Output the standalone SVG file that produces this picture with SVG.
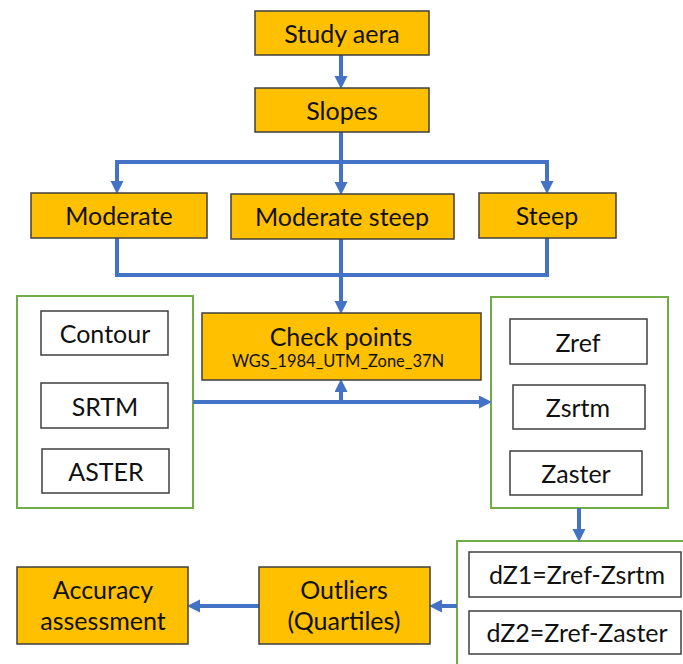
<svg xmlns="http://www.w3.org/2000/svg" width="683" height="664" viewBox="0 0 683 664">
<defs>
<marker id="ah" markerUnits="userSpaceOnUse" markerWidth="14" markerHeight="14" refX="4" refY="6.5" orient="auto">
<path d="M0,0 L13,6.5 L0,13 z" fill="#4472C4"/>
</marker>
<style>
.o{fill:#FFC000;stroke:#3F3F3F;stroke-width:1.5}
.w{fill:#FFFFFF;stroke:#3F3F3F;stroke-width:1.5}
.g{fill:#FFFFFF;stroke:#70AD47;stroke-width:2}
.c{fill:none;stroke:#4472C4;stroke-width:4}
.ca{fill:none;stroke:#4472C4;stroke-width:4;marker-end:url(#ah)}
text{font-family:Lato,"Liberation Sans",sans-serif;font-size:25px;fill:#111111;text-anchor:middle;dominant-baseline:central}
.s{font-size:16.5px}
</style>
</defs>
<rect width="683" height="664" fill="#FFFFFF"/>
<g id="grp-left"><rect class="g" x="17" y="296" width="176" height="212"/></g>
<g id="grp-right"><rect class="g" x="491" y="297" width="177" height="211"/></g>
<g id="grp-dz"><rect class="g" x="457" y="541" width="240" height="140"/></g>
<g id="connectors">
<line class="ca" x1="341" y1="55" x2="341" y2="80"/>
<polyline class="c" points="341,132 341,162"/>
<polyline class="c" points="117,162 547,162"/>
<line class="ca" x1="117" y1="160" x2="117" y2="185"/>
<line class="ca" x1="341" y1="160" x2="341" y2="186"/>
<line class="ca" x1="547" y1="160" x2="547" y2="185"/>
<polyline class="c" points="117,238 117,275 547,275 547,238"/>
<line class="c" x1="341" y1="239" x2="341" y2="275"/>
<line class="ca" x1="341" y1="273" x2="341" y2="305"/>
<line class="ca" x1="193" y1="402" x2="483" y2="402"/>
<line class="ca" x1="341" y1="404" x2="341" y2="388"/>
<line class="ca" x1="579" y1="508" x2="579" y2="533"/>
<line class="ca" x1="457" y1="606" x2="438" y2="606"/>
<line class="ca" x1="259" y1="606" x2="196" y2="606"/>
</g>
<g id="study"><rect class="o" x="255" y="11" width="174" height="44"/><text x="342" y="33">Study aera</text></g>
<g id="slopes"><rect class="o" x="255" y="88" width="174" height="44"/><text x="342" y="110">Slopes</text></g>
<g id="moderate"><rect class="o" x="31" y="193" width="176" height="45"/><text x="119" y="215">Moderate</text></g>
<g id="modsteep"><rect class="o" x="231" y="194" width="223" height="45"/><text x="342" y="216">Moderate steep</text></g>
<g id="steep"><rect class="o" x="479" y="193" width="137" height="45"/><text x="547" y="215">Steep</text></g>
<g id="check"><rect class="o" x="202" y="313" width="279" height="67"/><text x="341" y="336">Check points</text><text class="s" x="338" y="361">WGS_1984_UTM_Zone_37N</text></g>
<g id="contour"><rect class="w" x="41" y="311" width="127" height="44"/><text x="105" y="333">Contour</text></g>
<g id="srtm"><rect class="w" x="41" y="383" width="127" height="45"/><text x="105" y="406">SRTM</text></g>
<g id="aster"><rect class="w" x="42" y="449" width="127" height="44"/><text x="106" y="471">ASTER</text></g>
<g id="zref"><rect class="w" x="510" y="319" width="137" height="45"/><text x="578" y="342">Zref</text></g>
<g id="zsrtm"><rect class="w" x="513" y="385" width="132" height="44"/><text x="578" y="407">Zsrtm</text></g>
<g id="zaster"><rect class="w" x="510" y="451" width="132" height="44"/><text x="576" y="473">Zaster</text></g>
<g id="dz1"><rect class="w" x="469" y="552" width="212" height="45"/><text x="577" y="574">dZ1=Zref-Zsrtm</text></g>
<g id="dz2"><rect class="w" x="469" y="611" width="212" height="43"/><text x="577" y="632">dZ2=Zref-Zaster</text></g>
<g id="outliers"><rect class="o" x="259" y="567" width="171" height="77"/><text x="344" y="589">Outliers</text><text x="344" y="620">(Quartiles)</text></g>
<g id="accuracy"><rect class="o" x="17" y="567" width="171" height="77"/><text x="103" y="589">Accuracy</text><text x="103" y="620">assessment</text></g>
</svg>
